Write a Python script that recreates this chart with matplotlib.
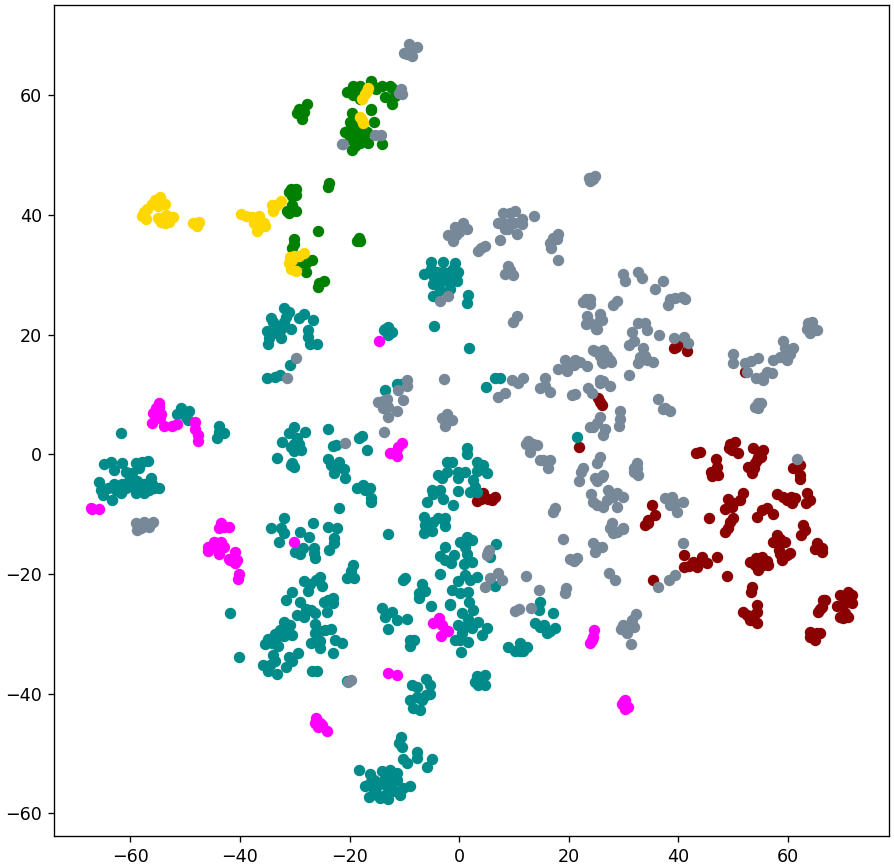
import numpy as np
import matplotlib
matplotlib.use('Agg')
import matplotlib.pyplot as plt

# t-SNE points, one list per class
red_pts = [(3.2,-7.8),(4.4,-6.5),(6,-7.7),(6.6,-7.2),(5.2,-7.5),(4,-7.5),(25.4,9.4),(26,8.3),(25.7,8.8),(21.9,1.3),
    (39.1,17.7),(40,18.5),(41.5,17.2),(39.6,17.9),(52.2,13.7),(43.2,0.2),(43.9,0.4),(49.4,1.8),(50.3,2),(49.7,0.7),(50.9,0.2),(49.2,1),
    (53.6,1.1),(55.4,0.8),(54.5,-0.4),(54,-1.5),(52.7,-2.1),(53.4,-3.2),(55,-0.5),(53.8,-2.3),(54.3,-1),(46.8,-0.8),(47,-2.1),(46,-3),(47.2,-3.5),(46.6,-2.8),(46.2,-3.6),
    (60.9,-2.3),(62.2,-1.8),(62.2,-3.5),(62.2,-4.2),(35.2,-8.4),(35.7,-10.2),(34.5,-11),(33.9,-11.9),(34.4,-11.5),(45.5,-10.6),
    (51.7,-6.5),(49,-7.5),(51.2,-7.6),(50,-8.2),(48.5,-9.2),(49.7,-8.8),(50,-10.7),(49.4,-11.3),(48.5,-13),(49,-12.4),
    (54.3,-10.5),(55.2,-9.3),(56.1,-9),(57.2,-9.9),(57.9,-6.7),(59.1,-7.1),(60.7,-8.2),(59.8,-7.6),(61.3,-7.3),(63.4,-6.5),(64,-7.7),(63.3,-8.2),(60.5,-7.2),
    (62.7,-11.9),(63,-12.6),(62.4,-13.5),(57.9,-13.5),(57.3,-14.6),(59.5,-14.6),(58.6,-14.2),(65.3,-14.9),(66.1,-16.3),(64.9,-15.9),(66.1,-15.6),
    (60.4,-16.5),(58.6,-16.6),(58.9,-17.7),(59.8,-16.8),(58.3,-16),(53.1,-18),(55.2,-17.1),(56.4,-18.5),(54.5,-19.4),(55.4,-18.5),(53.9,-18.5),(54.2,-17.3),(56.1,-17.9),
    (48.9,-20.4),(53.4,-22.2),(53.3,-23),(54.3,-25.2),(51.8,-26.3),(54.3,-26.3),(53.1,-27.7),(54.3,-28.2),(53.7,-26.9),(52.5,-26.8),
    (41,-16.9),(47,-17.2),(41,-18.8),(42,-18.7),(44.3,-17.1),(45.2,-18.2),(43.3,-18.8),(43.9,-18),(42.7,-18),(35.4,-21),
    (66.3,-24.4),(66.7,-24.4),(66.1,-25.5),(65.5,-26.4),(65.8,-25.8),(70.9,-23),(69.5,-23.5),(71.6,-23.5),(68.9,-25.3),(71.6,-24.9),(70.7,-24),(70,-25.2),(70,-27.4),(70.9,-27.2),(69.5,-27.2),(70.4,-26.6),
    (64,-29.7),(65.8,-29.9),(64.9,-31),(64,-30.5),(65.2,-29.9)]

teal_pts = [(-61.7,3.6),(-64.7,-1.7),(-63.5,-1.3),(-62.9,-2.7),(-61.5,-1.4),(-60.8,-3),(-59,-1.5),(-57.8,-1.3),(-56.8,-1.2),(-58.4,-2.3),(-59.7,-3.2),
    (-65.7,-4.6),(-65.4,-6),(-65,-6.8),(-63.3,-7.7),(-62.9,-4.9),(-61.5,-4.9),(-61.7,-6.5),(-60.6,-4.9),(-59,-6.5),(-57.5,-6.5),(-58.8,-4.4),(-56.2,-4),(-55.6,-5.7),(-54.7,-5.7),
    (-57.5,-4.9),(-64,-5.7),(-60.8,-5.7),(-60.2,-4.4),(-58.1,-5.1),(-56,-4.9),(-62.6,-6),(-59.5,-5.5),(-56.5,-6),
    (-50.5,7.3),(-49.2,7.2),(-51.4,6.8),(-49.8,6.2),(-50.7,7.8),(-49.5,5.7),(-43.8,4.7),(-42.9,3.6),(-44.1,2.7),(-43.8,3.7),
    (-31.9,24.4),(-31,23.8),(-34.3,22.7),(-28.3,23.5),(-29.2,22.7),(-26.7,22.4),(-31.9,22.1),(-35,20.6),(-32.5,21),(-30.7,21),(-33.9,20.2),(-32.5,19.4),(-34.8,18.5),(-34.7,19.4),
    (-27.5,20.7),(-27.6,19.6),(-27.2,18.5),(-26,18.4),(-33.9,22.1),(-31.6,23),(-33.3,21.5),(-30.9,14.9),(-32.7,13.3),(-35,12.8),(-33.5,13),
    (-30.1,4.6),(-31.1,3.5),(-28.1,3.7),(-32.3,2),(-30.1,1.8),(-28.9,0.7),(-30.1,0.6),(-29.5,2.8),(-30.7,1.2),(-29.2,1.8),(-33.2,-0.6),(-30.7,-1.8),(-30.4,-1.5),(-30.1,-2.2),
    (-24,4.3),(-23.1,1.4),(-22.4,1.5),(-24,-0.8),(-21.9,-1.3),(-22.8,-3.1),(-21,-2.5),(-20.8,-4),(-22.5,-2.3),(-23.4,-1.8),
    (-18.7,-5.7),(-17.5,-5.2),(-16.2,-5.7),(-17.1,-6),(-16.1,-7.3),(-16.1,-8),(-21.9,-9),(-16.8,0.8),(-17.7,3),(-18.3,2.8),(-13,-13.4),
    (-34.3,-12.4),(-31.9,-10.6),(-32.5,-12.4),(-32.8,-14.6),(-31.9,-13.2),(-29.1,-13),(-27.4,-13.8),(-26.6,-11.5),(-24,-12.2),(-22.2,-12.4),(-22.8,-14),(-23.7,-16),(-26.4,-15.7),(-30,-16.3),(-28.5,-15.7),(-22.8,-14.9),
    (-26.3,-17.4),(-26.5,-16.5),(-29,-16.6),(-19.3,-18.5),(-19.8,-19.5),(-20.5,-20.7),(-19.1,-20.7),
    (-28.3,-21.2),(-27.2,-21.6),(-27.5,-22.8),(-25.4,-20.5),(-25,-22),(-26.2,-21),
    (-30.5,-23),(-31.6,-24.4),(-29,-24.7),(-26.3,-26.5),(-24.1,-26.3),(-24.7,-24.7),(-23,-24),(-23,-24.9),(-23.9,-24.3),(-28,-25.8),(-27,-26.1),(-29.6,-26.9),(-28.3,-27.2),
    (-32,-28),(-30.8,-28.6),(-32.6,-29.4),(-33.5,-30),(-31.4,-29.4),(-30.5,-30.2),(-34.8,-30.8),(-35.4,-31.7),(-34.2,-31.5),(-33,-32),(-33.2,-30.6),(-32,-30.4),
    (-26.3,-28.4),(-26.3,-29.9),(-24.5,-29.3),(-23.4,-29.2),(-25.4,-29.6),(-27,-31.6),(-25.4,-32.4),(-22.6,-31),(-21.4,-31.5),(-23,-33.2),(-25.4,-31.2),
    (-29.4,-33.2),(-31.1,-33.8),(-31.6,-35.5),(-30.5,-34.6),(-33.9,-33.6),(-34.5,-35.2),(-35.7,-35.2),(-34.8,-36.2),(-33.2,-36.7),(-33.6,-34.5),(-26.9,-36.2),(-26,-36.2),(-20.5,-37.9),
    (-40.1,-33.9),(-41.8,-26.5),
    (-6,-37.6),(-5.3,-38.6),(-8.6,-38.6),(-7.7,-38.9),(-6,-40.2),(-8.9,-41),(-7.7,-40.6),(-8.4,-42.4),(-7.1,-42.8),(-6.8,-41),(-5.3,-40),
    (3.2,-37),(4.7,-36.9),(2.9,-38),(3.5,-38.6),(4.7,-38.6),(4.1,-37.5),
    (-10.6,-47.2),(-10.9,-48.2),(-10.4,-48.9),(-10.2,-50.9),(-9.5,-51.6),(-7.7,-49.7),(-7.7,-50.8),(-5.9,-52.2),(-5,-51),
    (-18.2,-52.8),(-16.2,-53.4),(-14.1,-53),(-12.6,-52.8),(-11.4,-53.2),(-15.6,-54.4),(-13.8,-54.4),(-12,-54.4),(-17.1,-55.4),(-15,-55.5),(-13.2,-55.5),(-11.4,-54.4),(-10.2,-55.8),(-8.9,-55.5),
    (-16.4,-57.2),(-14.4,-57.4),(-12.9,-57.6),(-10.8,-56.9),(-15,-56.9),(-13.5,-56.9),(-12.3,-56.3),(-15.6,-56.3),(-14.1,-54.9),(-12.9,-53.7),(-16.2,-55),(-11.7,-56.3),
    (-5.2,32.1),(-2.9,32.2),(-0.7,31.9),(-6.5,30.2),(-4.1,30.4),(-1.7,30.4),(-0.2,30.4),(-5.2,31),(-4.3,28.8),(-2.2,29),(-0.5,29.4),(-3,30.5),(-3.2,29.6),(-4.5,29.6),(-1.2,31),
    (-4.7,28.5),(-4.7,26.5),(-3.5,27.5),(-1.6,27.7),(-0.4,29),(-3.9,28.5),(1.7,26.7),(1.5,25.3),(-4.5,21.4),(1.8,17.7),(4.9,11.2),(6.6,12.7),(7.5,12.7),
    (-12.9,21.2),(-13.8,20.8),(-12.3,20.4),(-12.9,20),(-13.5,21),(-13.5,10.8),(-11.4,11.8),(-10.5,11.8),
    (1.4,1),(1.4,0),(-2.2,-1.3),(-1.3,-1.3),(3.2,-1.3),(4.4,-1.8),(5,-3.1),(-3.8,-3.5),(-2.2,-3),(-3.2,-4),(-0.2,-4),(1.1,-3),(3.2,-2.8),(2.6,-4.3),(2.9,-5.5),(2,-6.3),(3.2,-6.3),(-0.2,-6.2),(-0.2,-3),
    (-1.1,-8.4),(-5,-6),(-3.5,-6),(-5.9,-8),(-3,-7.4),(-4.7,-6.6),(-6.5,-10.4),(-2.6,-10.6),(-4.7,-11.3),(-6.2,-11.9),(-2.6,-12),(-6.5,-13.2),(-5,-12.8),(-3.8,-10.6),(-2.7,-11),
    (1.4,-13.8),(0.2,-14.6),(2.3,-14.4),(1.1,-15.5),(-2.6,-15.5),(-1,-16.9),(1.4,-16.7),(-2.6,-17.7),(-3.5,-20),(0.8,-18.3),(2.3,-18),(-1.5,-18.2),(6.7,-15),(5.6,-17.1),(-3.5,-17),
    (1.1,-20.2),(3.2,-20.5),(-0.2,-21.1),(2,-21),(-1.3,-22.7),(1.7,-23),(0.2,-23.2),(6.6,-22),(-1.6,-25),(1.8,-24.7),(0.5,-26.6),(2.6,-26),(3.5,-28),(-0.2,-28.5),(1.7,-27.5),(0.8,-28.8),(0.5,-29.9),
    (5,-29),(4.1,-30.2),(-0.7,-31),(1.7,-31.4),(0.3,-33),(2.3,-29),(0.2,-31),
    (-10.2,-21),(-9.9,-20.7),(-6.7,-21.6),(-7.4,-23.2),(-6.2,-22.8),(-7.4,-24.1),(-5.1,-25.4),(-1.6,-25.2),
    (-14.1,-25.7),(-12.3,-26.3),(-13.5,-27.2),(-11.4,-27.7),(-9.5,-27.6),(-13,-29.2),(-8.9,-31),(-8.9,-32),(-8.3,-31),
    (14.8,-24.7),(14.5,-26),(17.1,-26.5),(13.9,-28.2),(15.4,-28.5),(16.6,-29.6),(16,-29.9),(17.5,-29),(14.8,-28.8),
    (8.9,-32.2),(10.1,-32.8),(11.1,-31.6),(12.3,-32.2),(11.1,-32.8),(11.7,-32.8),(21.5,2.9)]

green_pts = [(-29.2,57.8),(-27.8,58.6),(-29.5,57),(-28.6,56.1),(-28.3,57.2),
    (-30.7,44.4),(-29.8,44.4),(-29.8,43.4),(-31.1,43.8),(-30.4,43.2),(-31.4,40.7),(-30.5,41.6),(-29.8,40.6),(-31.1,40.3),
    (-23.7,45.4),(-24,44.6),(-25.8,37.4),(-30.1,36),(-30.2,35.2),(-30.5,34.4),
    (-26.8,32.5),(-27.9,32),(-29.2,31.9),(-27.9,30.4),(-25.5,28.7),(-24.6,28.9),(-25.8,28),
    (-18.7,35.6),(-18,35.6),(-18.3,36.2),
    (-20.5,60.6),(-19.3,61.6),(-18.1,61.6),(-18.7,60.7),(-19.3,60.1),(-18.1,59.4),(-16.1,62.4),(-15.7,61.6),(-14.1,61.6),(-12.6,61.6),(-13.5,59.8),(-12.3,58.6),(-11.7,59.9),(-15.2,61),(-12.3,61.2),
    (-16.1,57.8),(-16.1,57.5),(-19.6,57.1),(-19.9,55.5),(-15.6,55.5),(-20.8,53.8),(-19.3,54.4),(-19,53.3),(-19.9,52.7),(-18,52.1),(-19.6,50.9),(-16.8,53.8),(-16.6,52.1),(-17.8,53.3),(-14.1,51.9),(-19,51.6),(-17.6,54.4),(-20.2,54.1),(-18.7,54.9)]

gold_pts = [(-55.5,42.5),(-54.5,43),(-56,41.8),(-53.7,41.8),(-55,41.5),(-57.5,40.5),(-57.1,39.4),(-57.8,39.8),(-57,41),(-54.5,39.5),(-53.5,40),(-52.9,39.6),(-54.4,38.8),(-52.2,39.7),(-53,38.8),(-55,39.5),(-53.7,38.6),
    (-48.6,38.7),(-47.9,38.7),(-47.8,38.2),(-47.4,38.9),
    (-39.8,40.2),(-38.9,39.9),(-37.8,39.6),(-36.6,39.8),(-35.6,38.7),(-36.6,37.9),(-36.9,37.3),(-37.5,38.7),(-35.4,38.1),(-36.4,38.8),
    (-34.1,41.6),(-32.5,42.4),(-33.9,40.7),(-33.3,41.6),
    (-30.1,33.2),(-28.3,33.6),(-29.2,33.2),(-31,31.9),(-30.7,31),(-29.7,30.7),(-30.9,33),(-30.5,32.4),
    (-16.6,61.3),(-17.2,60.2),(-17.7,59.4),(-16.9,60.8),(-18,56.3),(-17.6,55.4),(-17.8,55.9)]

magenta_pts = [(-54.7,8.5),(-55.3,7.7),(-55.8,6.9),(-54.4,6.8),(-56,5.3),(-53.9,4.7),(-54.8,7.9),(-54.6,6),(-52.3,4.8),(-51.5,5),
    (-48.2,5.4),(-48.1,4.3),(-47.7,3.3),(-47.6,2.2),(-66.9,-9.2),(-65.7,-9.2),(-67.1,-9),
    (-43.5,-11.5),(-42.9,-12.1),(-42,-12.1),(-43.8,-12.4),(-44.7,-14.6),(-45.9,-15.5),(-45.9,-16.1),(-43.5,-14.6),(-42.9,-15.5),(-43.8,-16.6),(-44.4,-15.5),
    (-40.9,-16.3),(-42,-17.5),(-40.5,-17.7),(-41.8,-17.7),(-40.9,-18.1),(-40.1,-20),(-40.4,-20.9),
    (-30.1,-14.6),(-14.6,18.9),(-10.5,1.9),(-11.1,1.2),(-11.6,0.4),(-12.6,0.2),(-11.4,-0.3),
    (-4.7,-28.2),(-3.6,-27.4),(-3.2,-28.5),(-2,-29.5),(-3.3,-30.3),(-13,-36.6),(-11.4,-36.9),
    (-26.1,-44),(-26.3,-44.9),(-25.4,-44.9),(-25.1,-45.2),(-24.1,-46.2),(-25.7,-45.5),
    (24.6,-29.4),(24.4,-30.5),(23.9,-31.6),(24.2,-31),(30.3,-41),(29.7,-41.7),(30.8,-42.2),(30.3,-42.6),(30,-41.2)]

gray_pts = [(-9.1,68.6),(-7.7,68),(-9.5,66.9),(-8.6,66.6),(-10,67),(-8.6,67.8),(-10.6,61.1),(-10.5,60.3),(-11,60.4),(-21.1,51.9),(-21.3,51.8),(-15.3,53.4),(-14.3,53.3),
    (0.7,38.6),(-0.7,38),(-2,36.6),(-1.1,35.7),(0,37.2),(1.4,37.6),(-0.6,36.6),(3.5,34),(4.7,34.9),(4,34.5),(7.5,35.9),
    (8,40.4),(10.2,40.7),(9.3,40.4),(7.1,38.7),(11.4,38.5),(9.3,38.7),(10.5,36.9),(8.4,37.6),(10,38.7),(8.9,37.6),(8,38.7),(11.4,39.4),(13.7,39.8),
    (18.1,36.9),(17.2,36.2),(16.6,35.4),(16.7,34.4),(17.8,36),(18,32.4),(23.9,46.2),(24.8,46.6),(23.9,45.6),(23.6,46.2),(24.4,46),
    (8.9,31.5),(8.4,30.2),(9.9,29.9),(9.3,30.8),(29.9,30.2),(30.3,29),(32.7,30.4),(33.3,29.4),(37.2,28.9),(35.7,27.7),(38.5,26),(40.6,26.3),(38.1,24.9),(41.2,25.9),(39.4,26.2),
    (28.8,25.7),(28.1,24.9),(23.9,26),(25.7,23.5),(25.7,22.4),(25.1,21),(23.9,21.9),
    (32.7,21.9),(33.9,21.9),(34.2,20.7),(31.5,20.4),(31.8,19),(30.9,18.2),(36.5,20),(39.1,19.5),(41,19.6),(41.8,18.6),
    (33.6,17.7),(33,16.2),(32.7,15.2),(34.2,15.7),(35.4,15.4),(33.9,16.5),(24.5,17.4),(26.3,17.4),(26.9,16.5),(26.3,15.2),(27.7,15.4),(25.7,16.5),
    (30.9,13.2),(26.3,12.2),(27.5,11.5),(25.7,12),(36.3,9.2),(37.2,7.6),(38.5,7.2),(37.5,7.7),
    (50,16.7),(50,15.2),(52.2,15.2),(54.5,16.1),(53.3,15.6),(52.5,13.7),(54.1,12.7),(55.5,12.4),(57,13.6),(56.1,13.7),(55.5,13),
    (59.1,19),(57.3,15.7),(58.5,16.2),(59.8,15.7),(60.9,17.7),(60.3,16.7),(59.4,17.7),(63.7,21.9),(64.6,21),(65.2,20.7),(63.4,21),(64,20.2),(64.3,22.1),
    (54.5,8.5),(55.1,8.5),(54,7.9),(54.5,7.7),(61.6,-0.8),(29.4,7.3),(29.4,5.9),(29.2,4.8),
    (25.7,6.2),(24.5,4.6),(26.6,4.3),(26.3,3.2),(25.1,5.2),(23.9,4.6),(25.7,-0.4),(25.1,-1.5),(32.4,-1.5),(31.8,-2.3),(32.6,-3.5),(31.8,-2.9),(26.3,-3.5),(24.8,-4),
    (23.2,26),(22.6,25.5),(23.8,25.2),(23.3,23.2),(23.2,21.7),(26,22.4),(25,21),
    (10.5,23.2),(9.8,22.1),(21.2,15.7),(19.6,15.2),(18.1,14.3),(22,15.4),(23.3,14.7),(19.6,14),(20.9,15),(19.3,15.7),(24.8,17.2),(27.5,15.7),(26,15.4),
    (23.5,11),(24.2,10.2),(25.7,12.4),(15.7,12.7),(14.8,11),(16.6,10.4),(15.7,11.4),(20.6,9.9),(21.2,10.1),
    (9.6,12.5),(10.8,12),(11.7,12.7),(8.4,10.2),(7,9.6),(-2.7,12.6),(-2.2,6.8),(-3.2,6),(-1.3,5.7),(-2.6,4.8),(-2.2,5.9),
    (-13.2,9.3),(-14.8,8.7),(-13.9,7.7),(-12.9,6.2),(-11.4,7.3),(-13,7.9),(-13.9,8.9),(-10.2,9),(-9.5,12.4),(-9.6,11.5),(-11.1,10.8),(-13.8,3.8),(-20.8,1.9),(-3.5,25.7),(-2,26.5),
    (12.6,2.3),(13.5,1.8),(13,0.4),(14.2,1.5),(12.2,1.8),(15.3,-1),(16.2,-2.3),(14.8,-1),(16.6,-1),
    (22.6,-2.3),(22.3,-2.9),(21.9,-4.5),(26,-3.8),(25.1,-4.4),(24.1,-6.7),(27.2,-6),(29.9,-7.1),(28.7,-6.5),(25.1,-8.5),(26.3,-8.8),(28.8,-8.8),(24.5,-7.9),(26.9,-7.7),(28,-7.1),
    (17.5,-9),(17.2,-9.6),(19,-14.2),(27.8,-11.5),(28.1,-13.2),(29.9,-12.4),(27.5,-12.4),(28.7,-13),(25.1,-15.5),(24.5,-14.9),(26,-15.5),(24.8,-16.3),(21.5,-17.4),(20.9,-17.8),(20.3,-17.5),(32.4,-2.3),(5.3,-16.3),(5,-16.9),
    (37.6,-7.3),(38.8,-7.1),(40.9,-8),(38.5,-8.5),(39.7,-9.6),(39.4,-8.2),(29.9,-12.5),(40.9,-14.8),(27.4,-19.8),(28.5,-21),(39.4,-20.2),(38.3,-21),(36.2,-22.2),
    (32.2,-26.7),(31.5,-27.7),(29.9,-28.5),(30.6,-29.9),(31.8,-28.8),(29.6,-29.2),(31.2,-28.5),(30.2,-29.2),(31.3,-31.7),
    (12.2,-20.3),(19.5,-22.4),(19.3,-23.2),(14.6,-22.6),(10.9,-25.9),(13.1,-25.7),(10.2,-26.2),(5.5,-16),(5.6,-20.7),(4.7,-22.2),(7.1,-19.9),(7.8,-21),
    (-59,-11.5),(-57.5,-11.3),(-55.9,-11.3),(-58.7,-12.7),(-58.1,-12.4),(-56.5,-12.1),(-57.8,-11.7),
    (-29.8,16.1),(-31.4,12.7),(-19.8,-37.8),(-20.2,-38)]

x_ticks = [-60, -40, -20, 0, 20, 40, 60]
y_ticks = [-60, -40, -20, 0, 20, 40, 60]

dpi = 120
fig = plt.figure(figsize=(894 / dpi, 867 / dpi), dpi=dpi)
ax = fig.add_axes([54 / 894, 1 - 836 / 867, (889 - 54) / 894, (836 - 5) / 867])

# gray goes last, it sits over everything in the picture
for pts, col in [(red_pts, 'darkred'), (teal_pts, 'darkcyan'), (green_pts, 'green'),
                 (gold_pts, 'gold'), (magenta_pts, 'magenta'), (gray_pts, 'lightslategray')]:
    arr = np.array(pts)
    ax.scatter(arr[:, 0], arr[:, 1], c=col, s=34)

ax.set_xlim(-73.9, 78.4)
ax.set_ylim(-63.8, 75.1)
ax.set_xticks(x_ticks)
ax.set_yticks(y_ticks)
ax.tick_params(labelsize=10.5)

fig.savefig('out.png', dpi=dpi)
